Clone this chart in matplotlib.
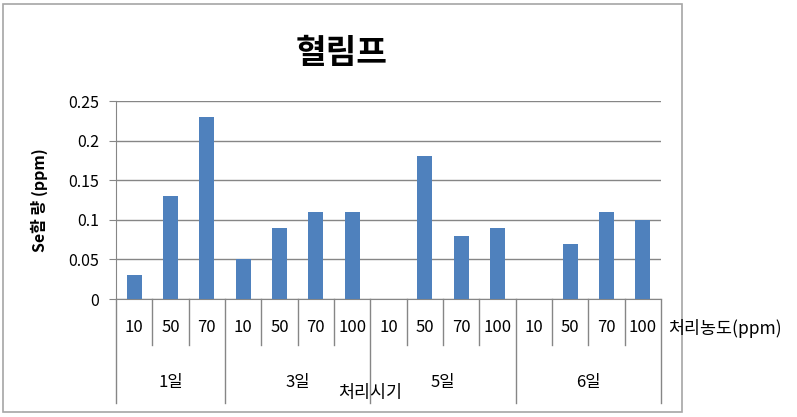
import numpy as np
import matplotlib
matplotlib.use("Agg")
import matplotlib.pyplot as plt
from matplotlib.patches import Rectangle
import matplotlib.transforms as mtransforms

plt.rcParams['font.family'] = ['Noto Sans CJK KR', 'DejaVu Sans']

# data
periods = ['1일', '3일', '5일', '6일']
conc_1 = ['10', '50', '70']
conc_3 = ['10', '50', '70', '100']
conc_5 = ['10', '50', '70', '100']
conc_6 = ['10', '50', '70', '100']
se_1 = [0.03, 0.13, 0.23]
se_3 = [0.05, 0.09, 0.11, 0.11]
se_5 = [np.nan, 0.18, 0.08, 0.09]
se_6 = [np.nan, 0.07, 0.11, 0.10]

BAR = '#4F81BD'
GRID = '#868686'


def main():
    concs = [conc_1, conc_3, conc_5, conc_6]
    values = se_1 + se_3 + se_5 + se_6
    labels = conc_1 + conc_3 + conc_5 + conc_6
    x = np.arange(len(values))

    fig = plt.figure(figsize=(7.97, 4.17), dpi=100)
    ax = fig.add_axes([116 / 797, 118 / 417, 545 / 797, 198 / 417])

    ax.bar(x, values, width=0.42, color=BAR, zorder=3)
    ax.set_xlim(-0.5, len(values) - 0.5)
    ax.set_ylim(0, 0.25)
    ax.set_yticks(np.arange(0, 0.26, 0.05))
    ax.set_yticklabels(['0', '0.05', '0.1', '0.15', '0.2', '0.25'], fontsize=11.5)
    ax.yaxis.grid(True, color=GRID, linewidth=1)
    ax.set_axisbelow(True)
    for s in ['top', 'right']:
        ax.spines[s].set_visible(False)
    for s in ['left', 'bottom']:
        ax.spines[s].set_color(GRID)
    ax.tick_params(axis='y', length=5, color=GRID, pad=7)
    ax.set_xticks([])

    # multi-level category axis
    trans = mtransforms.blended_transform_factory(ax.transData, ax.transAxes)
    bounds = np.cumsum([0] + [len(c) for c in concs]) - 0.5
    for b in np.arange(-0.5, len(values)):
        low = -0.525 if np.isclose(bounds, b).any() else -0.232
        ax.plot([b, b], [0, low], transform=trans, color=GRID, lw=1, clip_on=False)
    for xi, lab in zip(x, labels):
        ax.text(xi, -0.146, lab, transform=trans, ha='center', va='center', fontsize=12)
    for i, p in enumerate(periods):
        mid = (bounds[i] + bounds[i + 1]) / 2
        ax.text(mid, -0.424, p, transform=trans, ha='center', va='center', fontsize=12)

    fig.text(0.428, 0.872, '혈림프', ha='center', va='center', fontsize=24, fontweight='bold')
    fig.text(0.05, 0.52, 'Se함 량 (ppm)', ha='center', va='center', rotation=90,
             fontsize=11.5, fontweight='bold')
    fig.text(0.464, 0.0576, '처리시기', ha='center', va='center', fontsize=12.5)
    fig.text(0.838, 0.2134, '처리농도(ppm)', ha='left', va='center', fontsize=12.5)

    # chart border
    fig.patches.append(Rectangle((3 / 797, 5 / 417), 679 / 797, 408 / 417,
                                 transform=fig.transFigure, fill=False,
                                 edgecolor='#A6A6A6', linewidth=1.2))

    fig.savefig('out.png', dpi=100)


if __name__ == "__main__":
    main()
